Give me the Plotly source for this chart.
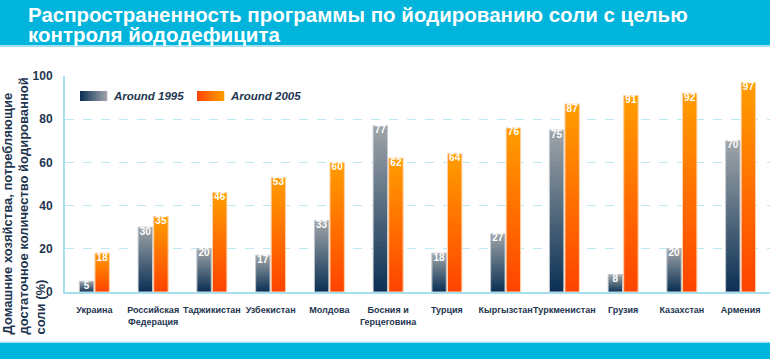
import plotly.graph_objects as go

categories = ["Украина", "Российская<br>Федерация", "Таджикистан", "Узбекистан", "Молдова",
              "Босния и<br>Герцеговина", "Турция", "Кыргызстан", "Туркменистан", "Грузия",
              "Казахстан", "Армения"]
around_1995 = [5, 30, 20, 17, 33, 77, 18, 27, 75, 8, 20, 70]
around_2005 = [18, 35, 46, 53, 60, 62, 64, 76, 87, 91, 92, 97]
series_names = ["Around 1995", "Around 2005"]
y_ticks = [0, 20, 40, 60, 80, 100]
title_lines = ["Распространенность программы по йодированию соли с целью", "контроля йододефицита"]
y_title = "Домашние хозяйства, потребляющие<br>достаточное количество йодированной<br>соли (%)"

W, H = 770, 359
ML, MR, MT, MB = 65, 0, 76, 67
PW, PH = W - ML - MR, H - MT - MB

def px(x):
    return (x - ML) / PW

def py(y):
    return (H - MB - y) / PH

def hex2rgb(h):
    h = h.lstrip("#")
    return tuple(int(h[i:i + 2], 16) for i in (0, 2, 4))

def mix(c0, c1, t):
    a, b = hex2rgb(c0), hex2rgb(c1)
    return "rgb(%d,%d,%d)" % tuple(round(a[i] * (1 - t) + b[i] * t) for i in range(3))

grad = {
    "Around 1995": ("#0A3054", "#A0A5A9"),
    "Around 2005": ("#FF4300", "#FF9E00"),
}
edge = {"Around 1995": "#C9CED3", "Around 2005": "#FFD6B0"}
NAVY = "#1E3550"
CYAN = "#00B4DB"

xs = list(range(len(categories)))
BW = 0.245
offsets = {"Around 1995": -0.255, "Around 2005": 0.01}

fig = go.Figure()
N = 40
for name, vals in zip(series_names, [around_1995, around_2005]):
    c0, c1 = grad[name]
    for k in range(N):
        t = (k + 0.5) / N
        bases = [v * k / N for v in vals]
        heights = [min(v * 2.5 / N, v - b) for v, b in zip(vals, bases)]
        fig.add_trace(go.Bar(
            x=xs, y=heights, base=bases,
            width=BW, offset=offsets[name],
            marker=dict(color=mix(c0, c1, t), line=dict(width=0)),
            showlegend=False, hoverinfo="skip"))
    fig.add_trace(go.Bar(
        x=xs, y=vals, width=BW, offset=offsets[name],
        marker=dict(color="rgba(0,0,0,0)", line=dict(color=edge[name], width=1)),
        showlegend=False, name=name))
    fig.add_trace(go.Scatter(
        x=[x + offsets[name] + BW / 2 for x in xs], y=vals, mode="text",
        text=[str(v) for v in vals], textposition="bottom center",
        textfont=dict(family="Liberation Sans", size=10, color="white", weight="bold"),
        showlegend=False, hoverinfo="skip"))

shapes = [
    dict(type="rect", xref="paper", yref="paper", x0=px(0), x1=px(W), y0=py(45), y1=py(0),
         fillcolor=CYAN, line=dict(width=0), layer="below"),
    dict(type="rect", xref="paper", yref="paper", x0=px(0), x1=px(W), y0=py(47), y1=py(45),
         fillcolor="#A6E0EF", line=dict(width=0), layer="below"),
    dict(type="rect", xref="paper", yref="paper", x0=px(0), x1=px(W), y0=py(H), y1=py(343),
         fillcolor=CYAN, line=dict(width=0), layer="below"),
    dict(type="rect", xref="paper", yref="paper", x0=px(0), x1=px(W), y0=py(343), y1=py(341.5),
         fillcolor="#A6E0EF", line=dict(width=0), layer="below"),
]
# legend swatches with horizontal gradient
legend_pos = {"Around 1995": 80, "Around 2005": 197}
M = 27
for name in series_names:
    c0, c1 = grad[name]
    x0 = legend_pos[name]
    for k in range(M):
        t = (k + 0.5) / M
        shapes.append(dict(type="rect", xref="paper", yref="paper",
                           x0=px(x0 + k), x1=px(x0 + k + 1.3), y0=py(101), y1=py(91),
                           fillcolor=mix(c0, c1, t), line=dict(width=0)))

annotations = [
    dict(text=title_lines[0], xref="paper", yref="paper", x=px(26), y=py(14), xanchor="left",
         yanchor="middle", showarrow=False,
         font=dict(family="Liberation Sans", size=20.5, color="white", weight="bold")),
    dict(text=title_lines[1], xref="paper", yref="paper", x=px(26), y=py(34), xanchor="left",
         yanchor="middle", showarrow=False,
         font=dict(family="Liberation Sans", size=20.5, color="white", weight="bold")),
    dict(text=y_title, xref="paper", yref="paper", x=px(24), y=py(337), xanchor="center",
         yanchor="bottom", textangle=-90, align="left", showarrow=False,
         font=dict(family="Liberation Sans", size=13, color=NAVY, weight="bold")),
]
for name in series_names:
    annotations.append(dict(text=name, xref="paper", yref="paper", x=px(legend_pos[name] + 31),
                            y=py(96), xanchor="left", yanchor="middle", showarrow=False,
                            font=dict(family="Liberation Sans", size=11.5, color=NAVY,
                                      style="italic", weight="bold")))

fig.update_layout(
    width=W, height=H, margin=dict(l=ML, r=MR, t=MT, b=MB, pad=0, autoexpand=False),
    paper_bgcolor="white", plot_bgcolor="white",
    barmode="overlay", showlegend=False,
    shapes=shapes, annotations=annotations,
    xaxis=dict(range=[-0.5, len(categories) - 0.5], tickvals=xs, ticktext=categories,
               showgrid=False, zeroline=False, showline=True, linecolor="#A6E0EF", linewidth=2,
               ticks="", ticklabelstandoff=8, tickangle=0, automargin=False,
               tickfont=dict(family="Liberation Sans", size=9, color=NAVY, weight="bold")),
    yaxis=dict(range=[0, 100], tickvals=y_ticks, showgrid=True, gridcolor="#BDE9F4",
               griddash="dash", gridwidth=1, zeroline=False, showline=True, automargin=False,
               linecolor="#A6E0EF", linewidth=2, ticks="", ticklabelstandoff=8,
               tickfont=dict(family="Liberation Sans", size=12, color=NAVY, weight="bold")),
)

fig.write_html("out.html", config={"displayModeBar": False},
               post_script="document.body.style.margin='0';document.body.style.overflow='hidden';")
